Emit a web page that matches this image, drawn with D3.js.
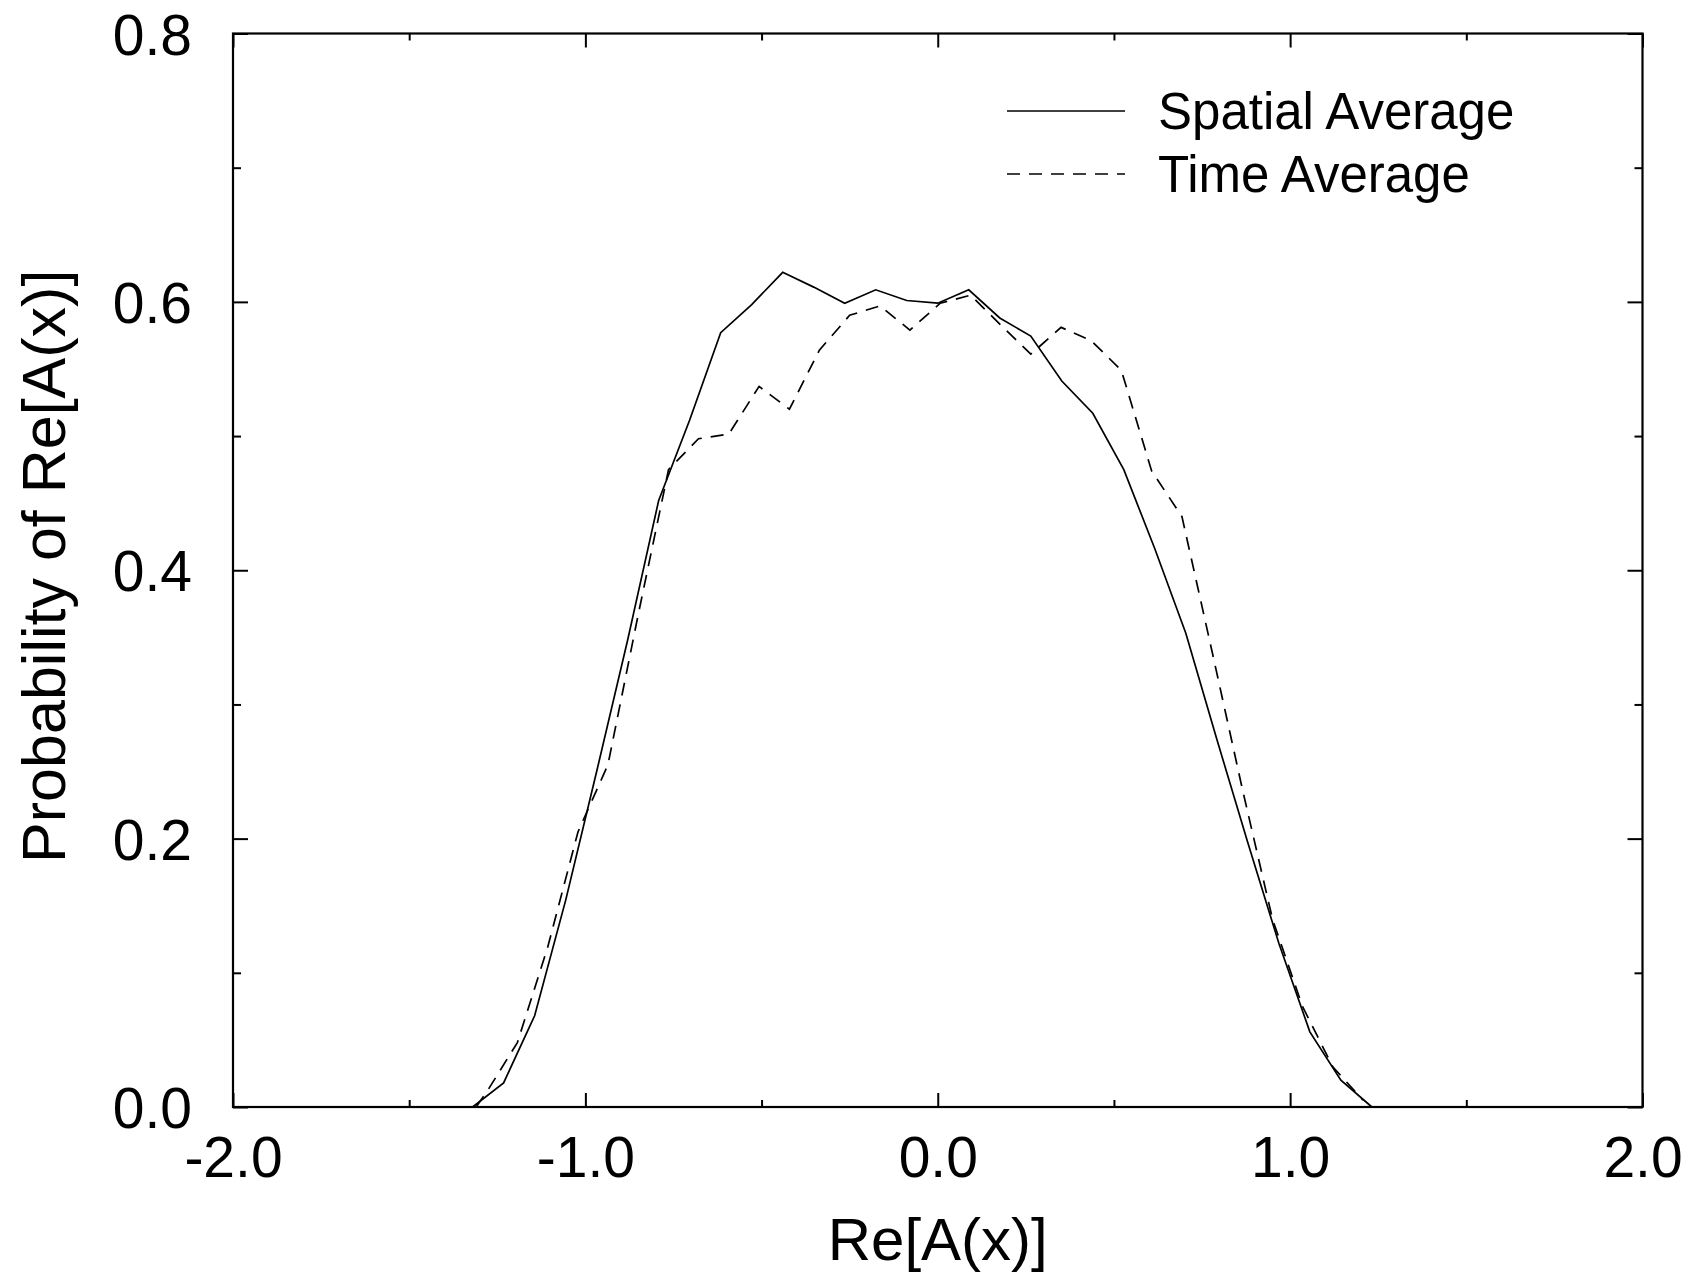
<!DOCTYPE html>
<html>
<head>
<meta charset="utf-8">
<script src="https://cdn.jsdelivr.net/npm/d3@7"></script>
<style>
  body { margin: 0; background: #fff; }
  svg text { font-family: "Liberation Sans", Arial, Helvetica, sans-serif; fill: #000; }
</style>
</head>
<body>
<div id="chartDiv"></div>
<script>
var spatialX = [-1.32, -1.232, -1.144, -1.056, -0.968, -0.88, -0.792, -0.704, -0.616, -0.528, -0.44, -0.352, -0.264, -0.176, -0.088, 0, 0.088, 0.176, 0.264, 0.352, 0.44, 0.528, 0.616, 0.704, 0.792, 0.88, 0.968, 1.056, 1.144, 1.232];
var spatialY = [0, 0.018, 0.068, 0.154, 0.25, 0.348, 0.452, 0.512, 0.577, 0.598, 0.622, 0.611, 0.599, 0.609, 0.601, 0.599, 0.609, 0.588, 0.5745, 0.541, 0.517, 0.475, 0.416, 0.353, 0.274, 0.197, 0.122, 0.056, 0.020, 0];

var timeX = [-1.31, -1.278, -1.193, -1.107, -1.021, -0.936, -0.85, -0.764, -0.679, -0.593, -0.507, -0.421, -0.336, -0.25, -0.164, -0.079, 0.007, 0.093, 0.178, 0.264, 0.35, 0.436, 0.521, 0.607, 0.693, 0.778, 0.864, 0.95, 1.035, 1.121, 1.207];
var timeY = [0, 0.012, 0.048, 0.119, 0.205, 0.255, 0.367, 0.475, 0.498, 0.5015, 0.537, 0.52, 0.564, 0.59, 0.597, 0.579, 0.599, 0.605, 0.583, 0.561, 0.581, 0.571, 0.549, 0.474, 0.44, 0.34, 0.2375, 0.14, 0.075, 0.03, 0.005];

var xMajor = [-2, -1, 0, 1, 2];
var xMinor = [-1.5, -0.5, 0.5, 1.5];
var yMajor = [0, 0.2, 0.4, 0.6, 0.8];
var yMinor = [0.1, 0.3, 0.5, 0.7];

var seriesNames = ['Spatial Average', 'Time Average'];
var seriesDash = [null, '13,9'];

var width = 1693;
var height = 1275;
var margin = {top: 33.5, right: 50.5, bottom: 168, left: 233};
var plotW = width - margin.left - margin.right;
var plotH = height - margin.top - margin.bottom;

var svg = d3.select('#chartDiv').append('svg')
  .attr('width', width)
  .attr('height', height);

var g = svg.append('g')
  .attr('transform', 'translate(' + margin.left + ',' + margin.top + ')');

var x = d3.scaleLinear().domain([-2, 2]).range([0, plotW]);
var y = d3.scaleLinear().domain([0, 0.8]).range([plotH, 0]);

// plain hyphen for negatives, like the original
var fmt = function(d) { return d.toFixed(1); };

var xAxis = g.append('g')
  .attr('transform', 'translate(0,' + plotH + ')')
  .call(d3.axisBottom(x).tickValues(xMajor).tickFormat(fmt).tickSize(-14).tickSizeOuter(0).tickPadding(30));
var yAxis = g.append('g')
  .call(d3.axisLeft(y).tickValues(yMajor).tickFormat(fmt).tickSize(-15).tickSizeOuter(0).tickPadding(41));

// minor ticks + top/right mirrored ticks
g.append('g').attr('transform', 'translate(0,' + plotH + ')')
  .call(d3.axisBottom(x).tickValues(xMinor).tickFormat('').tickSize(-7).tickSizeOuter(0));
g.append('g').call(d3.axisLeft(y).tickValues(yMinor).tickFormat('').tickSize(-8).tickSizeOuter(0));
g.append('g').call(d3.axisTop(x).tickValues(xMajor).tickFormat('').tickSize(-14).tickSizeOuter(0));
g.append('g').call(d3.axisTop(x).tickValues(xMinor).tickFormat('').tickSize(-7).tickSizeOuter(0));
g.append('g').attr('transform', 'translate(' + plotW + ',0)')
  .call(d3.axisRight(y).tickValues(yMajor).tickFormat('').tickSize(-15).tickSizeOuter(0));
g.append('g').attr('transform', 'translate(' + plotW + ',0)')
  .call(d3.axisRight(y).tickValues(yMinor).tickFormat('').tickSize(-8).tickSizeOuter(0));

g.selectAll('.domain').remove();
g.selectAll('.tick line').attr('stroke', '#000').attr('stroke-width', 2);
g.selectAll('.tick text').style('font-size', '57px').attr('fill', '#000');
yAxis.selectAll('.tick text').attr('dy', '0.36em');

g.append('rect')
  .attr('x', 0).attr('y', 0)
  .attr('width', plotW).attr('height', plotH)
  .attr('fill', 'none')
  .attr('stroke', '#000')
  .attr('stroke-width', 2.2);

var line = d3.line()
  .x(function(d) { return x(d[0]); })
  .y(function(d) { return y(d[1]); });

var spatialData = d3.zip(spatialX, spatialY);
var timeData = d3.zip(timeX, timeY);

g.append('path')
  .datum(timeData)
  .attr('d', line)
  .attr('fill', 'none')
  .attr('stroke', '#000')
  .attr('stroke-width', 1.7)
  .attr('stroke-dasharray', seriesDash[1]);

g.append('path')
  .datum(spatialData)
  .attr('d', line)
  .attr('fill', 'none')
  .attr('stroke', '#000')
  .attr('stroke-width', 1.7);

// legend
var legend = svg.append('g').attr('transform', 'translate(1007,111)');
seriesNames.forEach(function(name, i) {
  var row = legend.append('g').attr('transform', 'translate(0,' + (i * 63) + ')');
  row.append('line')
    .attr('x1', 0).attr('x2', 118)
    .attr('y1', 0).attr('y2', 0)
    .attr('stroke', '#000')
    .attr('stroke-width', 1.7)
    .attr('stroke-dasharray', seriesDash[i]);
  row.append('text')
    .attr('x', 151)
    .attr('y', 18)
    .style('font-size', '51px')
    .text(name);
});

// axis titles
svg.append('text')
  .attr('x', margin.left + plotW / 2)
  .attr('y', 1260)
  .attr('text-anchor', 'middle')
  .style('font-size', '60px')
  .text('Re[A(x)]');

svg.append('text')
  .attr('transform', 'translate(65,' + (margin.top + plotH / 2 - 4) + ') rotate(-90)')
  .attr('text-anchor', 'middle')
  .style('font-size', '61px')
  .text('Probability of Re[A(x)]');
</script>
</body>
</html>
